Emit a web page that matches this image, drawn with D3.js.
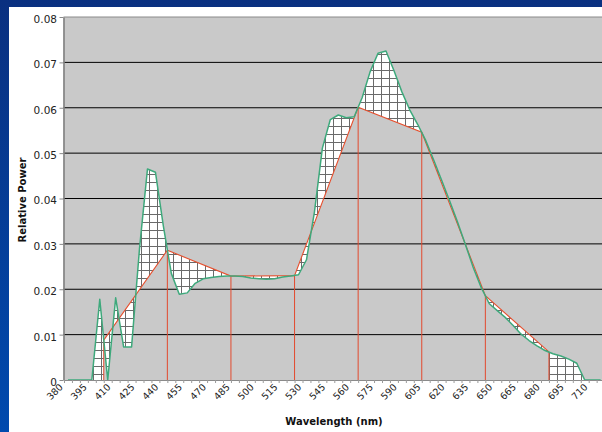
<!DOCTYPE html>
<html>
<head>
<meta charset="utf-8">
<script src="https://cdn.jsdelivr.net/npm/d3@7"></script>
<style>
  html, body { margin: 0; padding: 0; background: #fff; overflow: hidden; }
  svg { display: block; }
</style>
</head>
<body>
<svg id="chart" width="602" height="432"></svg>
<script>
// Spectral power distribution, sampled every 5 nm
const wavelengths = [
  380, 385, 390, 395, 400, 405, 410, 415, 420, 425, 430, 435, 440, 445, 450, 455, 460,
  465, 470, 475, 480, 485, 490, 495, 500, 505, 510, 515, 520, 525, 530, 535, 540, 545,
  550, 555, 560, 565, 570, 575, 580, 585, 590, 595, 600, 605, 610, 615, 620, 625, 630,
  635, 640, 645, 650, 655, 660, 665, 670, 675, 680, 685, 690, 695, 700, 705, 710, 715
];
const spectrum = [
  0, 0, 0, 0, 0.0178, 0, 0.0181, 0.0073, 0.0073, 0.0290, 0.0465, 0.0458, 0.0339, 0.0235,
  0.0189, 0.0192, 0.0213, 0.0223, 0.0226, 0.0228, 0.0229, 0.0229, 0.0228, 0.0225, 0.0223,
  0.0222, 0.0223, 0.0227, 0.0229, 0.0232, 0.0265, 0.0370, 0.0511, 0.0574, 0.0584, 0.0578,
  0.0580, 0.0622, 0.0679, 0.0720, 0.0725, 0.0682, 0.0635, 0.0595, 0.0563, 0.0528, 0.0485,
  0.0440, 0.0395, 0.0348, 0.0298, 0.0247, 0.0203, 0.0168, 0.0153, 0.0138, 0.0120, 0.0101,
  0.0087, 0.0075, 0.0065, 0.0058, 0.0053, 0.0046, 0.0037, 0, 0, 0
];

// Coarse 40 nm approximation of the same distribution
const stepWavelengths = [405, 445, 485, 525, 565, 605, 645, 685];
const stepValues = [0.0088, 0.0286, 0.0229, 0.0230, 0.0601, 0.0546, 0.0186, 0.0062];

const yTicks = [0, 0.01, 0.02, 0.03, 0.04, 0.05, 0.06, 0.07, 0.08];
const xTickLabels = [380, 395, 410, 425, 440, 455, 470, 485, 500, 515, 530, 545, 560,
                     575, 590, 605, 620, 635, 650, 665, 680, 695, 710];

const W = 602, H = 432;
const FONT = "'DejaVu Sans', Verdana, sans-serif";
const svg = d3.select("#chart");
const defs = svg.append("defs");

// Slide background
const bg = defs.append("linearGradient").attr("id", "bgGrad")
  .attr("x1", 0).attr("y1", 0).attr("x2", 0).attr("y2", 1);
bg.append("stop").attr("offset", "0%").attr("stop-color", "#0a3080");
bg.append("stop").attr("offset", "100%").attr("stop-color", "#004aae");
svg.append("rect").attr("width", W).attr("height", H).attr("fill", "url(#bgGrad)");
svg.append("rect").attr("x", 9).attr("y", 7).attr("width", W - 9).attr("height", H - 7).attr("fill", "#ffffff");

// Grid hatch used between the two curves
const pat = defs.append("pattern").attr("id", "hatch")
  .attr("patternUnits", "userSpaceOnUse").attr("width", 8).attr("height", 8);
pat.append("rect").attr("width", 8).attr("height", 8).attr("fill", "#ffffff");
pat.append("line").attr("x1", 5.5).attr("x2", 5.5).attr("y1", 0).attr("y2", 8)
  .attr("stroke", "#6a6a6a").attr("stroke-width", 1);
pat.append("line").attr("x1", 0).attr("x2", 8).attr("y1", 6.5).attr("y2", 6.5)
  .attr("stroke", "#6a6a6a").attr("stroke-width", 1);

// Scales
const step = 7.95;
const x0 = 64;
const x = d3.scaleBand().domain(wavelengths)
  .range([x0, x0 + wavelengths.length * step]).paddingInner(0).paddingOuter(0);
const xc = d => x(d) + x.bandwidth() / 2;
const xTick = d3.scaleLinear().domain([380, 380 + wavelengths.length * 5])
  .range([x0, x0 + wavelengths.length * step]);
const y = d3.scaleLinear().domain([0, 0.08]).range([380, 17]);

const plotL = 63.5, plotT = 17, plotB = 380, plotR = 610;

const clip = defs.append("clipPath").attr("id", "plotClip");
clip.append("rect").attr("x", plotL).attr("y", plotT).attr("width", plotR - plotL).attr("height", plotB - plotT);

// Plot area
svg.append("rect").attr("x", plotL).attr("y", plotT).attr("width", plotR - plotL)
  .attr("height", plotB - plotT).attr("fill", "#c9c9c9");

// Horizontal gridlines
svg.append("g").selectAll("line").data(yTicks.filter(d => d > 0 && d < 0.08)).join("line")
  .attr("x1", plotL).attr("x2", plotR)
  .attr("y1", d => y(d)).attr("y2", d => y(d))
  .attr("stroke", "#000").attr("stroke-width", 1);

const g = svg.append("g").attr("clip-path", "url(#plotClip)");

const specPts = wavelengths.map((w, i) => [xc(w), y(spectrum[i])]);
const stepPts = stepWavelengths.map((w, i) => [x(w), y(stepValues[i])]);

// Difference between the two curves: even-odd fill of both areas
const area = d3.area().x(d => d[0]).y0(y(0)).y1(d => d[1]);
g.append("path")
  .attr("d", area(specPts) + area(stepPts))
  .attr("fill", "url(#hatch)")
  .attr("fill-rule", "evenodd");

// Drop lines at the approximation's vertices
g.append("g").selectAll("line").data(stepPts).join("line")
  .attr("x1", d => d[0]).attr("x2", d => d[0])
  .attr("y1", y(0)).attr("y2", d => d[1])
  .attr("stroke", "#e2492e").attr("stroke-width", 1);

// Approximation
g.append("path").attr("d", d3.line()(stepPts))
  .attr("fill", "none").attr("stroke", "#e6502f").attr("stroke-width", 1.1);

// Measured spectrum
g.append("path").attr("d", d3.line()(specPts))
  .attr("fill", "none").attr("stroke", "#3ea97c").attr("stroke-width", 1.5)
  .attr("stroke-linejoin", "round");

// Plot frame
svg.append("line").attr("x1", plotL).attr("x2", plotR).attr("y1", plotT).attr("y2", plotT)
  .attr("stroke", "#8a8a8a").attr("stroke-width", 1);

// Y axis
const yAxis = svg.append("g").attr("transform", `translate(${plotL},0)`)
  .call(d3.axisLeft(y).tickValues(yTicks).tickSize(4).tickSizeOuter(0)
    .tickFormat(d => d === 0 ? "0" : d3.format(".2f")(d)));
yAxis.select(".domain").attr("stroke", "#808080").attr("stroke-width", 1.6);
yAxis.selectAll(".tick line").attr("stroke", "#8a8a8a");
yAxis.selectAll(".tick text").attr("font-family", FONT).attr("font-size", 10.5)
  .attr("fill", "#222").attr("y", 2).attr("x", -6.5);

// X axis
const labelSet = new Set(xTickLabels);
const xAxis = svg.append("g").attr("transform", `translate(0,${plotB})`)
  .call(d3.axisBottom(xTick).tickValues(wavelengths).tickSize(3).tickSizeOuter(0)
    .tickFormat(d => labelSet.has(d) ? d : ""));
xAxis.select(".domain").attr("stroke", "#8a8a8a");
xAxis.selectAll(".tick line").attr("stroke", "#9a9a9a");
xAxis.selectAll(".tick text")
  .attr("font-family", FONT).attr("font-size", 9.5).attr("fill", "#222")
  .attr("y", null).attr("x", null).attr("dy", "0.35em")
  .attr("text-anchor", "end")
  .attr("transform", "translate(-3.2,5.4) rotate(-45)");

// Axis titles
svg.append("text").attr("x", 334).attr("y", 425)
  .attr("text-anchor", "middle").attr("font-family", FONT).attr("font-size", 10)
  .attr("font-weight", "bold").attr("fill", "#111").text("Wavelength (nm)");
svg.append("text").attr("transform", "translate(26,200) rotate(-90)")
  .attr("text-anchor", "middle").attr("font-family", FONT).attr("font-size", 10)
  .attr("font-weight", "bold").attr("fill", "#111").text("Relative Power");
</script>
</body>
</html>
